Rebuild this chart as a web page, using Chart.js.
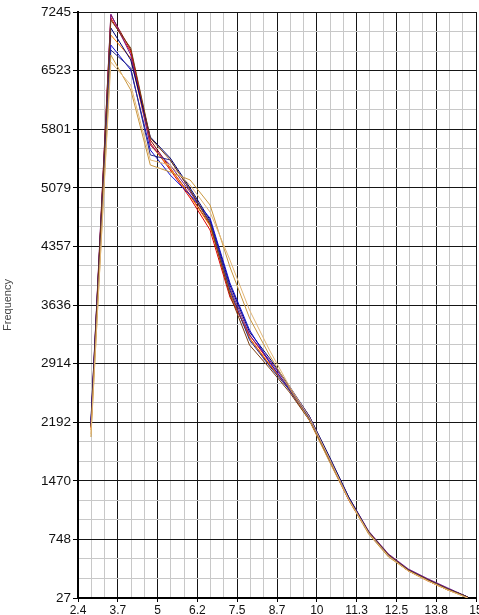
<!DOCTYPE html>
<html>
<head>
<meta charset="utf-8">
<script src="https://cdn.jsdelivr.net/npm/chart.js@4/dist/chart.umd.min.js"></script>
<style>
  html, body { margin: 0; padding: 0; background: #fff; }
  #wrap { width: 479px; height: 615px; position: relative; }
</style>
</head>
<body>
<div id="wrap"><canvas id="chart"></canvas></div>
<script>
// bin centres shared by every run
const xValues = [2.81, 3.44, 4.07, 4.69, 5.32, 5.95, 6.58, 7.21, 7.83, 8.46,
  9.09, 9.72, 10.35, 10.97, 11.60, 12.23, 12.86, 13.49, 14.11, 14.74];

const darkRed = [2158, 7208, 6777, 5668, 5323, 4991, 4621, 3784, 3230, 2897, 2614, 2244, 1751, 1259, 840, 557, 372, 249, 138, 39];
const red = [2121, 7171, 6752, 5631, 5299, 4954, 4560, 3734, 3267, 2934, 2589, 2219, 1727, 1234, 828, 545, 360, 236, 126, 39];
const purple = [2195, 7220, 6715, 5607, 5360, 5028, 4658, 3845, 3267, 2958, 2626, 2269, 1764, 1271, 852, 569, 384, 261, 150, 39];
const navy = [2219, 7048, 6654, 5705, 5446, 5077, 4683, 3882, 3304, 2983, 2638, 2269, 1776, 1271, 840, 557, 372, 249, 138, 39];
const blue = [2170, 6838, 6531, 5545, 5237, 4991, 4707, 3907, 3328, 2934, 2601, 2244, 1739, 1246, 828, 545, 372, 249, 138, 39];
const slate = [2146, 6777, 6555, 5484, 5422, 5052, 4658, 3821, 3205, 2885, 2589, 2232, 1751, 1259, 840, 557, 372, 249, 138, 39];
const orange = [2096, 6961, 6678, 5607, 5323, 4979, 4609, 3796, 3230, 2909, 2601, 2232, 1739, 1246, 828, 545, 360, 236, 126, 39];
const tan = [2010, 6715, 6284, 5360, 5274, 5176, 4868, 4104, 3476, 3020, 2614, 2219, 1714, 1234, 815, 532, 360, 236, 126, 27];
const lightTan = [2047, 6629, 6346, 5422, 5360, 5114, 4781, 4190, 3574, 3082, 2638, 2256, 1751, 1246, 828, 545, 360, 236, 126, 27];
const brown = [2133, 7146, 6801, 5693, 5422, 5052, 4634, 3759, 3143, 2860, 2564, 2219, 1739, 1246, 840, 557, 372, 249, 138, 39];

const xTickLabels = ['2.4', '3.7', '5', '6.2', '7.5', '8.7', '10', '11.3', '12.5', '13.8', '15'];
const yTickLabels = ['27', '748', '1470', '2192', '2914', '3636', '4357', '5079', '5801', '6523', '7245'];

const xMin = 2.4, xMax = 15;
const yMin = 27, yMax = 7245;
const minorPerMajor = 3;

const runs = [
  { data: lightTan, color: '#e2b676' },
  { data: tan, color: '#c9973f' },
  { data: brown, color: '#7a3e10' },
  { data: slate, color: '#2b2b86' },
  { data: blue, color: '#1010d0' },
  { data: navy, color: '#000070' },
  { data: purple, color: '#7a1a8a' },
  { data: orange, color: '#ff7f00' },
  { data: red, color: '#dd0000' },
  { data: darkRed, color: '#8e0000' }
];

function gridTicks(min, max) {
  const n = (xTickLabels.length - 1) * minorPerMajor;
  const out = [];
  for (let i = 0; i <= n; i += 1) out.push({ value: min + (max - min) * i / n });
  return out;
}

const isMajor = ctx => ctx.index % minorPerMajor === 0;
const gridColor = ctx => (isMajor(ctx) ? '#151515' : '#c8c8c8');
const tickColor = ctx => (isMajor(ctx) ? '#000' : 'rgba(0,0,0,0)');

new Chart(document.getElementById('chart'), {
  type: 'line',
  data: {
    datasets: runs.map(r => ({
      data: xValues.map((x, i) => ({ x, y: r.data[i] })),
      borderColor: r.color,
      borderWidth: 1,
      pointRadius: 0,
      tension: 0,
      fill: false
    }))
  },
  options: {
    responsive: true,
    maintainAspectRatio: false,
    animation: false,
    layout: { padding: { top: 12, right: 3, bottom: 0, left: 0 } },
    plugins: { legend: { display: false }, tooltip: { enabled: false } },
    scales: {
      x: {
        type: 'linear',
        min: xMin,
        max: xMax,
        afterBuildTicks: scale => { scale.ticks = gridTicks(xMin, xMax); },
        afterFit: scale => {
          scale.height = 17;
          scale.paddingLeft = 0;
          scale.paddingRight = 0;
        },
        border: { display: true, color: '#000', width: 2 },
        grid: { color: gridColor, tickColor, tickLength: 4, lineWidth: 1 },
        ticks: {
          autoSkip: false,
          maxRotation: 0,
          padding: 1,
          color: '#111',
          font: { family: 'Liberation Sans', size: 12 },
          callback: (v, i) => (i % minorPerMajor === 0 ? xTickLabels[i / minorPerMajor] : '')
        }
      },
      y: {
        min: yMin,
        max: yMax,
        afterBuildTicks: scale => { scale.ticks = gridTicks(yMin, yMax); },
        afterFit: scale => {
          scale.width = 78;
          scale.paddingTop = 0;
          scale.paddingBottom = 0;
        },
        border: { display: true, color: '#000', width: 2 },
        grid: { color: gridColor, tickColor, tickLength: 5, lineWidth: 1 },
        ticks: {
          autoSkip: false,
          padding: 2,
          color: '#111',
          font: { family: 'Liberation Sans', size: 13.5 },
          callback: (v, i) => (i % minorPerMajor === 0 ? yTickLabels[i / minorPerMajor] : '')
        },
        title: {
          display: true,
          text: 'Frequency',
          color: '#444',
          padding: { top: 1, bottom: 0 },
          font: { family: 'Liberation Sans', size: 11 }
        }
      }
    }
  }
});
</script>
</body>
</html>
